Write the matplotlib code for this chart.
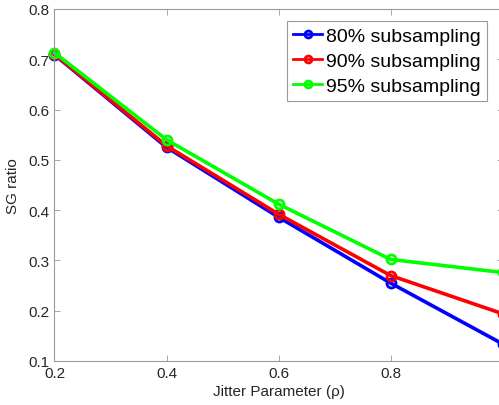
import numpy as np
import matplotlib.pyplot as plt

plt.rcParams['font.family'] = ['Liberation Sans', 'DejaVu Sans']

jitter = [0.2, 0.4, 0.6, 0.8, 1.0]
sub80 = [0.709, 0.525, 0.386, 0.255, 0.134]
sub90 = [0.710, 0.528, 0.392, 0.270, 0.194]
sub95 = [0.713, 0.540, 0.412, 0.302, 0.276]
labels = ['80% subsampling', '90% subsampling', '95% subsampling']
colors = ['#0000ff', '#ff0000', '#00ff00']

fig = plt.figure(figsize=(4.99, 4.06), dpi=100)
ax = fig.add_axes([0.1092, 0.1084, 0.898, 0.867])

for ys, lab, c in zip([sub80, sub90, sub95], labels, colors):
    ax.plot(jitter, ys, color=c, lw=2.6, marker='o', ms=6.5, mfc='none',
            mew=2.0, label=lab, clip_on=False)

ax.set_xlim(0.2, 1.0)
ax.set_ylim(0.1, 0.8)
# the "1" label falls outside the cropped figure in the original
ax.set_xticks([0.2, 0.4, 0.6, 0.8, 1.0])
ax.set_xticklabels(['0.2', '0.4', '0.6', '0.8', ''])
ax.set_yticks(np.arange(0.1, 0.81, 0.1))
ax.set_yticklabels(['0.1', '0.2', '0.3', '0.4', '0.5', '0.6', '0.7', '0.8'])
ax.tick_params(direction='in', length=4, width=0.6, colors='#999999',
               labelcolor='#262626', labelsize=11, top=True, right=True)
for s in ax.spines.values():
    s.set_color('#999999')
    s.set_linewidth(0.8)

ax.set_xlabel('Jitter Parameter (ρ)', fontsize=11, color='#262626', labelpad=3)
ax.set_ylabel('SG ratio', fontsize=11, color='#262626', labelpad=6)

leg = ax.legend(loc='upper right', bbox_to_anchor=(0.9645, 0.965), fontsize=14,
                fancybox=False, edgecolor='#999999', handlelength=1.5,
                handletextpad=0.2, borderpad=0.3, labelspacing=0.38,
                borderaxespad=0, framealpha=1)
leg.get_frame().set_linewidth(0.8)
for h in leg.legend_handles:
    h.set_markersize(5)
    h.set_linewidth(2)

fig.savefig('out.png', dpi=100)
